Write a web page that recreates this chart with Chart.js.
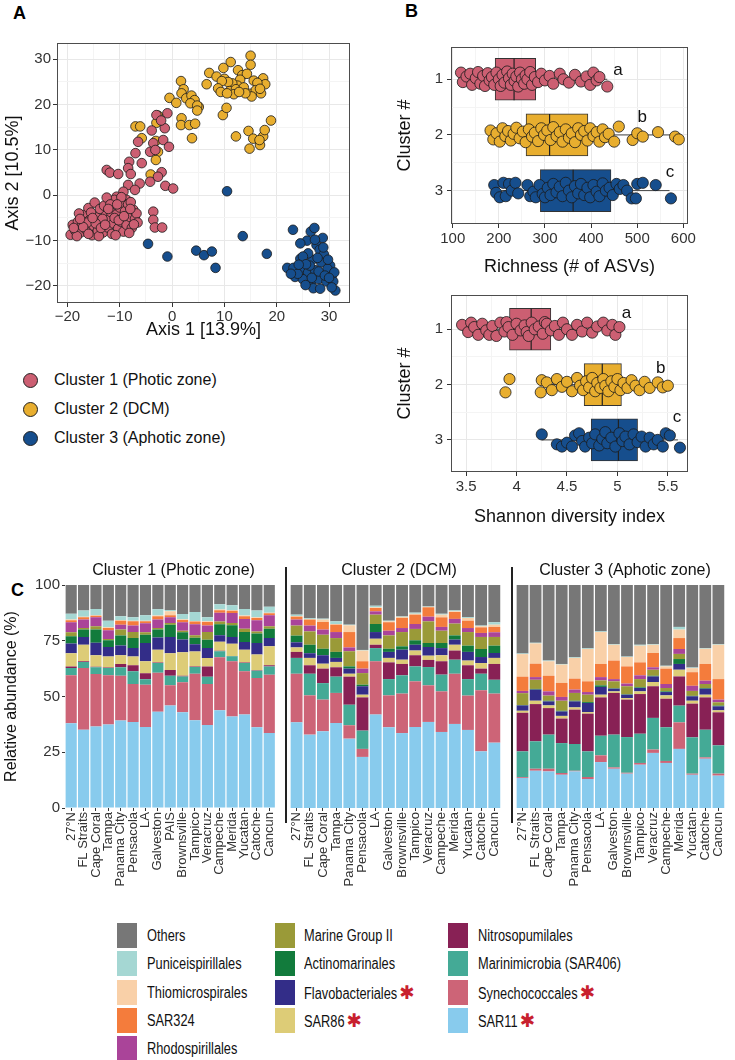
<!DOCTYPE html>
<html>
<head>
<meta charset="utf-8">
<script src="https://cdn.jsdelivr.net/npm/chart.js@4.4.1/dist/chart.umd.min.js"></script>
<style>
  body { margin: 0; background: #fff; font-family: 'Liberation Sans', Arial, sans-serif; }
  #fig { position: relative; width: 735px; height: 1060px; overflow: hidden; }
  #fig canvas { position: absolute; }
  .tag { position: absolute; font-weight: bold; font-size: 18px; color: #000; }
  .strip { position: absolute; top: 561px; font-size: 16px; text-align: center; color: #111; }
  .vline { position: absolute; top: 567px; width: 2px; height: 256px; background: #222; }
  .dot { position: absolute; width: 15px; height: 15px; border-radius: 50%; border: 1px solid #222; box-sizing: border-box; }
  .ltext { position: absolute; font-size: 16px; color: #111; white-space: nowrap; }
  .sq { position: absolute; width: 20px; height: 25px; }
  .ctext { position: absolute; font-size: 16px; color: #111; white-space: nowrap; line-height: 25px;
           transform: scaleX(0.8); transform-origin: 0 50%; }
  .star { color: #c8202e; font-family: 'DejaVu Sans', sans-serif; font-size: 19px; margin-left: 4px; display: inline-block; transform: scaleX(1.2); }
</style>
</head>
<body>
<div id="fig">
  <div class="tag" style="left:13px;top:3px;">A</div>
  <div class="tag" style="left:405px;top:1px;">B</div>
  <div class="tag" style="left:11px;top:580px;">C</div>

  <canvas id="pcoa" width="365" height="345" style="left:0;top:0;"></canvas>
  <canvas id="richness" width="365" height="285" style="left:370px;top:0;"></canvas>
  <canvas id="shannon" width="365" height="265" style="left:370px;top:270px;"></canvas>

  <div id="legendA"></div>

  <canvas id="bars1" width="286" height="345" style="left:0;top:560px;"></canvas>
  <canvas id="bars2" width="224" height="345" style="left:287px;top:560px;"></canvas>
  <canvas id="bars3" width="222" height="345" style="left:513px;top:560px;"></canvas>

  <div class="strip" style="left:65px;width:217px;">Cluster 1 (Photic zone)</div>
  <div class="strip" style="left:290px;width:218px;">Cluster 2 (DCM)</div>
  <div class="strip" style="left:516px;width:218px;">Cluster 3 (Aphotic zone)</div>
  <div class="vline" style="left:285px;"></div>
  <div class="vline" style="left:511px;"></div>

  <div id="legendC"></div>
</div>

<script>
// ---------- data ----------
var clusterNames = ['Cluster 1 (Photic zone)', 'Cluster 2 (DCM)', 'Cluster 3 (Aphotic zone)'];
var clusterColors = ['#cc5f72', '#e8ae2f', '#164e8d'];

// Panel A: PCoA coordinates [axis1, axis2]
var pcoaC1 = [
  [-3.0,17.7],[-0.9,18.1],[-1.4,14.8],[-2.1,16.5],[-3.9,14.3],[-6.5,11.8],[-3.6,11.5],[-1.7,12.2],[-0.6,10.7],
  [-4.2,9.6],[-3.2,10.0],[-7.0,9.3],[-8.2,7.4],[-5.8,7.1],[-8.4,6.0],[-12.5,5.6],[-11.9,5.0],[-10.3,4.7],
  [-7.9,4.7],[-2.0,5.1],[-4.2,3.0],[-6.2,2.6],[-8.4,2.3],[-1.3,2.1],[0.2,1.5],[-2.7,4.1],[-7.1,1.2],
  [-9.3,0.8],[-10.6,-0.3],[-8.7,-1.0],[-3.6,-3.6],[-3.6,-5.4],[-3.3,-7.1],[-1.9,-7.1],
  [-19.4,-8.7],[-19.0,-6.5],[-18.5,-7.8],[-18.0,-5.8],[-17.5,-8.2],[-17.2,-6.3],[-16.8,-4.3],[-16.5,-7.5],
  [-16.0,-2.8],[-15.8,-5.5],[-15.3,-8.8],[-15.0,-6.7],[-14.8,-1.6],[-14.5,-4.8],[-14.2,-7.8],[-13.8,-3.0],
  [-13.5,-6.0],[-13.2,-8.2],[-13.0,-2.3],[-12.7,-4.5],[-12.3,-7.1],[-12.0,-5.3],[-11.7,-3.7],[-11.5,-8.5],
  [-11.2,-6.2],[-11.0,-1.0],[-10.6,-4.2],[-10.3,-7.3],[-10.0,-2.7],[-9.8,-5.8],[-9.5,-1.6],[-9.3,-8.0],
  [-9.0,-3.5],[-8.7,-6.5],[-8.4,-2.0],[-8.0,-4.8],[-7.7,-7.2],[-7.4,-3.2],[-7.1,-5.2],[-6.8,-4.0],
  [-6.6,-6.0],[-17.8,-4.0],[-15.5,-3.8],[-14.0,-9.0],[-12.5,-0.5],[-10.8,-8.8],[-9.7,-0.4],[-8.2,-8.3],
  [-13.3,-5.2],[-16.2,-6.0],[-18.2,-9.0],[-11.8,-2.0],[-7.9,-1.5],
  [-18.8,-7.2],[-17.0,-7.0],[-16.0,-8.5],[-14.6,-6.2],[-13.6,-7.2],[-12.2,-3.0],[-11.0,-5.0],[-10.2,-5.5],
  [-9.2,-4.6],[-8.0,-3.0],[-7.3,-6.4],[-15.2,-5.0],[-12.8,-6.5],[-10.5,-2.0],[-17.6,-5.2]
];
var pcoaC2 = [
  [15.0,30.8],[15.0,28.8],[11.2,29.4],[9.8,28.1],[7.1,27.0],[8.5,26.2],[10.0,25.7],[12.6,27.6],[13.4,26.5],
  [14.3,26.8],[15.6,25.3],[17.4,25.8],[17.8,24.5],[16.3,24.8],[13.0,25.5],[12.5,24.2],[11.5,24.7],[10.7,25.0],
  [9.5,25.2],[8.8,23.6],[6.6,24.5],[9.3,22.8],[11.0,23.0],[12.2,23.4],[13.7,23.8],[14.9,22.4],[16.0,23.2],
  [17.0,22.5],[15.2,21.8],[14.0,22.5],[11.8,22.3],[10.5,22.5],[12.8,22.8],[16.8,23.5],
  [1.7,25.2],[2.2,23.4],[1.8,22.5],[-0.5,21.5],[0.8,20.4],[2.7,21.4],[3.7,22.0],[4.3,21.0],[3.5,20.3],
  [5.1,19.5],[4.8,19.8],[4.8,18.7],[1.8,17.0],[1.7,15.5],[3.3,15.5],[4.4,15.8],[3.8,12.6],[9.7,17.7],
  [10.4,19.3],[12.2,13.0],[14.6,14.2],[15.5,12.5],[16.8,11.1],[14.8,10.3],[17.4,13.0],[17.7,14.4],
  [18.9,16.5],[16.7,12.2],
  [-7.0,15.2],[-6.1,15.2],[-5.8,12.6],[-2.7,17.6],[-3.1,12.0],[-2.7,9.6],[-3.1,7.8],[-4.1,4.6],[-3.0,16.0]
];
var pcoaC3 = [
  [10.5,0.9],[13.5,-9.0],[-4.6,-10.7],[-0.9,-13.5],[4.6,-12.2],[6.1,-13.2],[7.6,-12.4],[8.3,-16.0],
  [18.1,-12.9],[23.1,-7.6],
  [26.5,-8.0],[27.2,-7.2],[28.8,-9.4],[25.8,-10.0],[24.5,-10.6],[27.6,-11.0],[28.2,-12.0],[29.0,-13.0],
  [24.5,-14.0],[26.8,-14.2],[28.5,-14.8],[30.2,-15.5],[22.0,-16.0],[23.2,-16.0],[24.8,-16.5],[26.0,-17.0],
  [27.3,-16.5],[29.7,-16.2],[30.5,-17.8],[23.5,-18.0],[25.0,-18.5],[26.5,-19.5],[28.0,-18.5],[29.5,-19.0],
  [27.0,-20.5],[28.3,-20.6],[30.8,-19.0],[31.2,-21.0],[30.5,-20.3],[25.5,-19.8],[24.0,-17.3],[26.3,-15.5],
  [28.0,-16.8],[29.2,-17.7],[27.8,-13.8],[26.0,-12.8],[25.0,-13.5],[31.0,-17.0],[22.7,-17.3],[26.7,-18.2],
  [28.9,-11.5],[27.3,-9.8],[29.8,-14.2],[30.0,-18.2],[25.6,-15.2],[24.2,-15.3]
];

// Panel B: richness (# ASVs) — [value, jittered cluster position]
var richC1 = [
  [118,0.88],[122,1.05],[130,0.95],[138,0.9],[142,1.1],[150,0.98],[155,0.87],[160,1.08],[166,0.94],[170,1.12],
  [176,0.89],[180,1.02],[185,0.96],[190,1.1],[195,0.88],[200,1.0],[204,1.12],[208,0.92],[212,1.06],[218,0.86],
  [222,0.98],[226,1.1],[230,0.9],[234,1.03],[238,0.95],[242,1.13],[246,0.88],[250,1.0],[255,1.08],[258,0.93],
  [262,1.0],[268,0.87],[272,1.1],[278,0.96],[285,1.05],[292,0.9],[300,1.02],[310,0.94],[318,1.08],[332,0.9],
  [340,1.0],[352,1.06],[365,0.92],[378,1.04],[390,0.95],[398,1.1],[405,0.88],[412,1.02],[418,0.96],[435,1.13]
];
var richC2 = [
  [182,1.92],[188,2.08],[195,1.97],[202,2.12],[208,1.88],[214,2.02],[220,1.93],[226,2.1],[232,1.98],[238,1.87],
  [245,2.06],[252,1.94],[258,2.13],[265,1.9],[272,2.03],[278,1.96],[285,2.11],[292,1.88],[298,2.0],[305,1.92],
  [312,2.09],[318,1.86],[325,2.02],[332,1.95],[338,2.12],[345,1.9],[352,2.05],[358,1.97],[365,2.13],[372,1.88],
  [378,2.0],[385,1.93],[392,2.1],[398,1.88],[405,2.02],[412,1.95],[418,2.12],[425,1.9],[430,2.04],[438,1.98],
  [450,2.12],[460,1.85],[490,2.09],[500,1.97],[512,2.03],[545,1.95],[582,2.03],[590,2.08]
];
var richC3 = [
  [190,2.9],[194,3.04],[202,3.12],[210,2.86],[215,3.1],[222,2.88],[228,3.0],[236,2.86],[242,3.05],[262,2.9],
  [268,3.1],[275,3.02],[280,3.12],[288,2.9],[295,3.06],[300,3.12],[306,2.95],[312,3.08],[318,2.88],[325,3.03],
  [332,2.93],[338,3.1],[345,2.86],[352,3.0],[358,3.12],[365,2.92],[372,3.05],[378,2.88],[385,3.08],[392,2.95],
  [398,3.12],[405,2.9],[412,3.02],[418,3.1],[425,2.87],[432,3.0],[440,2.95],[447,3.08],[455,2.88],[462,2.97],
  [470,2.9],[478,3.0],[488,3.14],[497,3.14],[500,2.88],[512,2.86],[540,2.9],[573,3.14]
];
var richQ1 = [192, 259, 290];
var richMedian = [233, 310, 361];
var richQ3 = [280, 393, 443];
var richLow = [118, 182, 205];
var richHigh = [435, 578, 570];

// Panel B: Shannon diversity index
var shanC1 = [
  [3.46,0.92],[3.52,1.05],[3.55,0.88],[3.58,0.96],[3.62,1.1],[3.66,0.9],[3.7,1.02],[3.73,1.1],[3.76,0.94],[3.8,1.12],
  [3.84,0.88],[3.88,1.04],[3.9,0.87],[3.92,0.96],[3.96,1.1],[4.0,0.9],[4.04,1.02],[4.08,0.93],[4.1,1.05],[4.12,1.12],
  [4.15,0.88],[4.18,1.0],[4.22,0.95],[4.26,1.08],[4.28,0.87],[4.3,0.9],[4.34,1.02],[4.38,0.94],[4.42,1.1],[4.46,0.88],
  [4.5,1.0],[4.55,1.1],[4.6,0.92],[4.65,1.04],[4.7,0.88],[4.75,1.06],[4.8,0.95],[4.86,0.88],[4.9,1.02],[4.95,0.92],
  [4.98,1.1],[5.02,0.96]
];
var shanC2 = [
  [3.93,1.9],[3.89,2.14],[4.24,2.14],[4.25,1.92],[4.3,1.96],[4.35,2.1],[4.4,1.9],[4.45,2.04],[4.5,1.95],[4.55,2.12],
  [4.6,1.88],[4.63,2.02],[4.66,2.1],[4.69,1.94],[4.72,2.05],[4.75,1.88],[4.78,2.12],[4.8,1.97],[4.83,2.06],[4.86,1.9],
  [4.88,2.02],[4.91,2.12],[4.94,1.94],[4.97,2.04],[5.0,1.9],[5.03,2.1],[5.06,1.97],[5.1,2.06],[5.14,1.92],[5.18,2.02],
  [5.22,2.1],[5.27,1.95],[5.32,2.06],[5.4,1.96],[5.45,2.05],[5.5,2.02]
];
var shanC3 = [
  [4.25,2.9],[4.4,3.08],[4.45,3.12],[4.5,3.05],[4.55,3.12],[4.58,2.92],[4.62,2.88],[4.65,3.02],[4.68,3.12],[4.72,2.96],
  [4.75,3.06],[4.78,2.9],[4.82,3.1],[4.85,2.98],[4.88,2.86],[4.9,3.06],[4.94,2.96],[4.98,3.12],[5.02,2.88],[5.05,3.02],
  [5.08,2.94],[5.12,3.08],[5.16,2.9],[5.2,3.04],[5.24,2.94],[5.28,3.12],[5.32,2.96],[5.36,3.08],[5.4,3.0],[5.45,3.12],
  [5.48,2.88],[5.52,2.92],[5.62,3.14]
];
var shanQ1 = [3.93, 4.67, 4.74];
var shanMedian = [4.145, 4.85, 5.01];
var shanQ3 = [4.34, 5.04, 5.20];
var shanLow = [3.46, 4.23, 4.25];
var shanHigh = [5.02, 5.52, 5.60];

// Panel C: relative abundance (%) per site, stacked bottom -> top
var taxa = ['SAR11', 'Synechococcales', 'Marinimicrobia (SAR406)', 'Nitrosopumilales', 'SAR86', 'Flavobacteriales',
            'Actinomarinales', 'Marine Group II', 'Rhodospirillales', 'SAR324', 'Thiomicrospirales', 'Puniceispirillales', 'Others'];
var taxaColors = ['#88cbed', '#cd6477', '#44aa96', '#882155', '#ddcc77', '#332d88', '#127b3c', '#9a9a38', '#aa4499',
                  '#f47c3c', '#f9d0a8', '#a5d7d3', '#777777'];
var starred = ['SAR11', 'Synechococcales', 'SAR86', 'Flavobacteriales'];

var sites1 = ['27°N', 'FL Straits', 'Cape Coral', 'Tampa', 'Panama City', 'Pensacola', 'LA', 'Galveston', 'PAIS',
              'Brownsville', 'Tampico', 'Veracruz', 'Campeche', 'Merida', 'Yucatan', 'Catoche', 'Cancun'];
var sites23 = ['27°N', 'FL Straits', 'Cape Coral', 'Tampa', 'Panama City', 'Pensacola', 'LA', 'Galveston',
               'Brownsville', 'Tampico', 'Veracruz', 'Campeche', 'Merida', 'Yucatan', 'Catoche', 'Cancun'];

// Cluster 1 (Photic zone)
var c1SAR11  = [38, 35.1, 36.5, 37.4, 39.2, 38.6, 36.3, 43.2, 46, 42.9, 39.3, 37.2, 43.8, 41, 41.9, 36.2, 33.6];
var c1Syn    = [21.5, 27.7, 23.6, 22.1, 20.1, 17, 19, 17.5, 9, 13.5, 20.9, 18.4, 23.8, 24.8, 19.4, 22.1, 26.2];
var c1Marini = [3.3, 2.7, 3, 3.3, 3.8, 5.7, 2.4, 4.3, 4.3, 2.6, 3, 3.3, 2.7, 2.2, 3.7, 3.3, 3.6];
var c1Nitro  = [0.6, 0.3, 0.2, 0.2, 1.5, 2.7, 2.7, 0.2, 2.6, 0.3, 0.2, 4.5, 0.2, 0.2, 0.3, 0.2, 0.6];
var c1SAR86  = [6, 7.4, 5.2, 4.9, 3.9, 3.9, 5.4, 5.8, 7.5, 10.5, 6.8, 3.9, 4, 5.5, 5.7, 7, 8.5];
var c1Flavo  = [4.4, 3.5, 5.6, 4.3, 4.4, 3.8, 8.2, 5.5, 7.3, 5.8, 3.2, 4.4, 3, 3, 3.4, 5.2, 3.7];
var c1Actino = [3.2, 3.3, 6, 3, 4.5, 4.5, 3.7, 3.5, 5.5, 3.2, 3, 3.8, 4.9, 5.2, 4.5, 4.2, 4.2];
var c1MGII   = [1.8, 0.7, 1.4, 0.6, 2.6, 2.7, 1.1, 0.7, 0.8, 0.7, 1.1, 3.4, 1.2, 1.1, 1.5, 1, 1.1];
var c1Rhodo  = [4.5, 3.8, 4, 3.9, 2.2, 2.9, 4, 3.8, 2.5, 3.8, 4.9, 2.9, 4, 4.4, 4.4, 5, 4.9];
var c1SAR324 = [0.9, 1, 0.7, 1, 1.8, 1.9, 0.9, 1.5, 0.9, 1, 1.2, 1.6, 1.1, 1.1, 1.2, 1, 0.9];
var c1Thio   = [0.3, 0.3, 0.2, 0.3, 0.3, 0.3, 0.3, 0.3, 1.8, 0.3, 0.3, 0.4, 0.3, 0.2, 0.3, 0.3, 0.3];
var c1Punic  = [2.6, 2.8, 2.8, 3, 1.7, 1.5, 2.4, 2.8, 0.6, 2.4, 4, 1.7, 2.4, 2.2, 2.9, 3.1, 2.7];
var c1Others = [12.9, 11.4, 10.8, 16, 14, 14.5, 13.6, 10.9, 11.2, 13.3, 12.6, 14.5, 8.8, 9.1, 10.8, 11.4, 10];

// Cluster 2 (DCM)
var c2SAR11  = [38.4, 32.9, 34.4, 38.1, 31.1, 22.9, 41.9, 36.2, 33.6, 36.3, 38.6, 34.1, 37.7, 35, 25.4, 29.3];
var c2Syn    = [21.8, 17.6, 14.2, 13.5, 6, 3.6, 23.9, 14.3, 17.7, 20.5, 16.4, 18.2, 22.5, 15.4, 27.4, 22];
var c2Marini = [7.1, 9.7, 7.4, 7.3, 9.2, 8.2, 5.9, 7.3, 8.2, 6.7, 8.2, 7.5, 6.3, 7.4, 7.4, 6.2];
var c2Nitro  = [2.7, 3.8, 6.5, 4.2, 12.6, 14.9, 1.5, 7.5, 5.1, 5, 3.2, 6, 4.1, 6.2, 2.3, 7.1];
var c2SAR86  = [2, 3.3, 2.2, 2.4, 1.3, 1.2, 2.7, 2, 1.9, 2.1, 1.9, 2.7, 2.6, 2.1, 2.5, 2.7];
var c2Flavo  = [2.3, 2.1, 3.8, 1.8, 2.3, 3.8, 3, 2.7, 4.5, 2.6, 3.9, 3.2, 2.3, 3.9, 2.7, 2.2];
var c2Actino = [3, 3.8, 2.9, 2.7, 1, 0.7, 3.6, 1.4, 1.5, 2, 1.8, 2.3, 1.9, 2.8, 3.6, 3.3];
var c2MGII   = [4.5, 6, 6.3, 6.2, 6.8, 5.2, 4.2, 6, 6.4, 5.1, 9.7, 5.5, 5.3, 6.1, 5.4, 3.9];
var c2Rhodo  = [2.7, 2.6, 2.3, 2.7, 1.7, 2, 1.5, 2.1, 1.8, 2.2, 2.1, 1.7, 2.1, 1.8, 1.8, 2.1];
var c2SAR324 = [1.3, 2.7, 3.4, 3.3, 6.9, 3.3, 1.5, 3.8, 4.5, 4.2, 4.2, 4.3, 3.1, 3.3, 2.5, 2.4];
var c2Thio   = [0.3, 0.2, 1.1, 0.3, 3, 4.8, 0.3, 0.4, 0.5, 0.4, 0.2, 1.2, 0.3, 1.2, 0.5, 1];
var c2Punic  = [0.6, 0.4, 0.4, 1.2, 0.3, 0.3, 0.7, 0.3, 0.2, 0.5, 0.2, 0.4, 0.4, 0.4, 0.3, 1.1];
var c2Others = [13.3, 15.1, 15.1, 16.6, 17.8, 29.1, 9.6, 16, 14.3, 12.4, 9.6, 12.9, 11.4, 14.4, 18.2, 16.7];

// Cluster 3 (Aphotic zone)
var c3SAR11  = [13.5, 16.7, 16.4, 14.9, 16.4, 13, 20.6, 17.6, 15.4, 19.4, 24.7, 20.2, 26.5, 14.9, 22.1, 14.5];
var c3Syn    = [0.4, 0.9, 1.2, 0.8, 0.3, 0.9, 3, 0.6, 0.4, 0.8, 1.5, 0.9, 11.9, 0.5, 0.6, 0.9];
var c3Marini = [11.5, 12.3, 15.3, 13.4, 12, 11.5, 8.8, 14.7, 16, 13.1, 14.2, 15.1, 7.5, 16.3, 12.4, 12.7];
var c3Nitro  = [17.3, 16.7, 11.9, 11, 15.4, 16.9, 17.2, 18.7, 16.8, 17.8, 14.2, 12.8, 13.1, 15.1, 14.5, 14.8];
var c3SAR86  = [0.9, 1.5, 1.2, 1.2, 1, 0.7, 1.2, 0.7, 0.7, 1.2, 1.9, 1.5, 3, 1.3, 1.2, 0.9];
var c3Flavo  = [2.4, 5, 1.8, 2, 2.7, 4.1, 3.5, 1.2, 1.5, 1.5, 2.5, 1.5, 2.6, 2, 2.7, 1.8];
var c3Actino = [0.2, 0.3, 0.3, 0.3, 0.3, 0.4, 0.7, 0.2, 0.2, 0.3, 0.3, 0.3, 2.2, 0.2, 0.3, 0.3];
var c3MGII   = [5.3, 4.1, 2.3, 4.5, 3.5, 3.3, 2.2, 3.1, 3.6, 3.7, 2.7, 1.5, 2.3, 2.2, 1.8, 1.5];
var c3Rhodo  = [1, 1.2, 1.9, 1.7, 1.5, 1.2, 1.5, 1, 1.2, 1.7, 1.1, 1.8, 2.2, 2.3, 1.5, 1.2];
var c3SAR324 = [6.4, 6, 7, 6.3, 4.9, 4.8, 5.9, 8.3, 7.7, 5.8, 6.4, 6.9, 4.9, 6.1, 7.5, 9.2];
var c3Thio   = [10.1, 9.1, 6.5, 8.2, 9.3, 14.5, 14.3, 7.1, 4.2, 7.5, 3.7, 1, 3.8, 1.8, 6.8, 15.4];
var c3Punic  = [0.3, 0.3, 0.3, 0.3, 0.3, 0.3, 0.3, 0.3, 0.2, 0.4, 0.3, 0.3, 1.2, 0.3, 0.3, 0.3];
var c3Others = [30.9, 25.9, 33.9, 35.4, 32.4, 28.4, 20.8, 26.5, 32.1, 26.8, 26.5, 36.2, 18.8, 37.2, 28.3, 26.5];

var cluster1 = [c1SAR11, c1Syn, c1Marini, c1Nitro, c1SAR86, c1Flavo, c1Actino, c1MGII, c1Rhodo, c1SAR324, c1Thio, c1Punic, c1Others];
var cluster2 = [c2SAR11, c2Syn, c2Marini, c2Nitro, c2SAR86, c2Flavo, c2Actino, c2MGII, c2Rhodo, c2SAR324, c2Thio, c2Punic, c2Others];
var cluster3 = [c3SAR11, c3Syn, c3Marini, c3Nitro, c3SAR86, c3Flavo, c3Actino, c3MGII, c3Rhodo, c3SAR324, c3Thio, c3Punic, c3Others];

// ---------- helpers ----------
Chart.defaults.font.family = "'Liberation Sans', Arial, sans-serif";
Chart.defaults.color = '#333';
Chart.defaults.animation = false;
Chart.defaults.plugins.legend.display = false;
Chart.defaults.plugins.tooltip.enabled = false;

function toXY(arr) {
  return arr.map(function (p) { return { x: p[0], y: p[1] }; });
}
function minusSign(v) {
  return v < 0 ? '\u2212' + Math.abs(v) : String(v);
}
function setTicks(list) {
  return function (scale) { scale.ticks = list.map(function (v) { return { value: v }; }); };
}

// panel border like theme_bw
var panelBorder = {
  id: 'panelBorder',
  afterDraw: function (chart) {
    var a = chart.chartArea, ctx = chart.ctx;
    ctx.save();
    ctx.strokeStyle = '#4d4d4d';
    ctx.lineWidth = 1;
    ctx.strokeRect(a.left + 0.5, a.top + 0.5, a.right - a.left - 1, a.bottom - a.top - 1);
    ctx.restore();
  }
};

// significance letters next to the boxes
var groupLetters = {
  id: 'groupLetters',
  afterDatasetsDraw: function (chart, args, opts) {
    var ctx = chart.ctx, sx = chart.scales.x, sy = chart.scales.y;
    ctx.save();
    ctx.font = "17px 'Liberation Sans', Arial, sans-serif";
    ctx.fillStyle = '#111';
    ctx.textAlign = 'center';
    ctx.textBaseline = 'middle';
    for (var i = 0; i < opts.text.length; i++) {
      ctx.fillText(opts.text[i], sx.getPixelForValue(opts.xs[i]), sy.getPixelForValue(opts.ys[i]));
    }
    ctx.restore();
  }
};

// ---------- Panel A ----------
var pcoaSets = [pcoaC1, pcoaC2, pcoaC3].map(function (pts, i) {
  return {
    data: toXY(pts),
    backgroundColor: clusterColors[i],
    borderColor: '#1a1a1a',
    borderWidth: 0.8,
    pointRadius: 4.8
  };
});

new Chart(document.getElementById('pcoa'), {
  type: 'scatter',
  data: { datasets: pcoaSets },
  options: {
    responsive: false,
    layout: { padding: { top: 43, right: 15, left: 0, bottom: 0 } },
    scales: {
      x: {
        min: -22, max: 34,
        afterBuildTicks: setTicks([-20, -15, -10, -5, 0, 5, 10, 15, 20, 25, 30]),
        afterFit: function (s) { s.height = 42; },
        ticks: {
          autoSkip: false, maxRotation: 0, padding: 1, font: { size: 15 }, color: '#333',
          callback: function (v) { return v % 10 === 0 ? minusSign(v) : ''; }
        },
        grid: {
          color: function (c) { return c.tick && c.tick.value % 10 === 0 ? '#e8e8e8' : '#f4f4f4'; },
          tickColor: function (c) { return c.tick && c.tick.value % 10 === 0 ? '#333' : 'rgba(0,0,0,0)'; },
          tickLength: 4
        },
        border: { display: false },
        title: { display: true, text: 'Axis 1 [13.9%]', font: { size: 18 }, color: '#111', padding: { top: 0, bottom: 4 } }
      },
      y: {
        min: -23.75, max: 33.6,
        afterBuildTicks: setTicks([-20, -15, -10, -5, 0, 5, 10, 15, 20, 25, 30]),
        afterFit: function (s) { s.width = 57; },
        ticks: {
          autoSkip: false, padding: 2, font: { size: 15 }, color: '#333',
          callback: function (v) { return v % 10 === 0 ? minusSign(v) : ''; }
        },
        grid: {
          color: function (c) { return c.tick && c.tick.value % 10 === 0 ? '#e8e8e8' : '#f4f4f4'; },
          tickColor: function (c) { return c.tick && c.tick.value % 10 === 0 ? '#333' : 'rgba(0,0,0,0)'; },
          tickLength: 4
        },
        border: { display: false },
        title: { display: true, text: 'Axis 2 [10.5%]', font: { size: 18 }, color: '#111', padding: { top: 2, bottom: 0 } }
      }
    }
  },
  plugins: [panelBorder]
});

// ---------- Panel B ----------
function diversityChart(id, cfg) {
  var sets = [];
  [cfg.c1, cfg.c2, cfg.c3].forEach(function (pts, i) {
    sets.push({
      type: 'scatter', data: toXY(pts), order: 0,
      backgroundColor: clusterColors[i], borderColor: '#1a1a1a', borderWidth: 0.8, pointRadius: 5.6
    });
  });
  for (var i = 0; i < 3; i++) {
    sets.push({
      type: 'line', order: 1, showLine: true, pointRadius: 0, borderColor: '#222', borderWidth: 1.2,
      data: [{ x: cfg.median[i], y: i + 1 - 0.375 }, { x: cfg.median[i], y: i + 1 + 0.375 }]
    });
    sets.push({
      type: 'line', order: 3, showLine: true, pointRadius: 0, borderColor: '#444', borderWidth: 1,
      data: [{ x: cfg.low[i], y: i + 1 }, { x: cfg.high[i], y: i + 1 }]
    });
  }
  sets.push({
    type: 'bar', indexAxis: 'y', order: 2,
    data: cfg.q1.map(function (q, i) { return { x: [q, cfg.q3[i]], y: i + 1 }; }),
    backgroundColor: clusterColors, borderColor: '#333', borderWidth: 1, borderSkipped: false,
    barThickness: 42
  });

  return new Chart(document.getElementById(id), {
    type: 'scatter',
    data: { datasets: sets },
    options: {
      responsive: false,
      layout: { padding: { top: cfg.top, right: 47, left: 0, bottom: 0 } },
      plugins: { groupLetters: cfg.letters },
      scales: {
        x: {
          type: 'linear', offset: false,
          min: cfg.xmin, max: cfg.xmax,
          afterBuildTicks: setTicks(cfg.xticks),
          afterFit: function (s) { s.height = cfg.axisH; },
          ticks: {
            autoSkip: false, maxRotation: 0, padding: 2, font: { size: 15 }, color: '#333',
            callback: function (v) { return cfg.isMajor(v) ? String(v) : ''; }
          },
          grid: {
            offset: false,
            color: function (c) { return c.tick && cfg.isMajor(c.tick.value) ? '#e8e8e8' : '#f4f4f4'; },
            tickColor: function (c) { return c.tick && cfg.isMajor(c.tick.value) ? '#333' : 'rgba(0,0,0,0)'; },
            tickLength: 4
          },
          border: { display: false },
          title: { display: true, text: cfg.title, font: { size: 18 }, color: '#111', padding: { top: 0, bottom: 7 } }
        },
        y: {
          type: 'linear', offset: false,
          min: cfg.ymin, max: cfg.ymax, reverse: true,
          afterBuildTicks: setTicks([1, 1.5, 2, 2.5, 3]),
          afterFit: function (s) { s.width = 81; },
          ticks: {
            autoSkip: false, padding: 4, font: { size: 15 }, color: '#333',
            callback: function (v) { return Number.isInteger(v) ? String(v) : ''; }
          },
          grid: {
            offset: false,
            color: function (c) { return c.tick && Number.isInteger(c.tick.value) ? '#e8e8e8' : '#f4f4f4'; },
            tickColor: function (c) { return c.tick && Number.isInteger(c.tick.value) ? '#333' : 'rgba(0,0,0,0)'; },
            tickLength: 4
          },
          border: { display: false },
          title: { display: true, text: 'Cluster #', font: { size: 18 }, color: '#111', padding: { top: 24, bottom: 0 } }
        }
      }
    },
    plugins: [panelBorder, groupLetters]
  });
}

diversityChart('richness', {
  c1: richC1, c2: richC2, c3: richC3,
  q1: richQ1, median: richMedian, q3: richQ3, low: richLow, high: richHigh,
  xmin: 96.3, xmax: 610, ymin: 0.42, ymax: 3.6, top: 47, axisH: 61,
  xticks: [100, 150, 200, 250, 300, 350, 400, 450, 500, 550, 600],
  isMajor: function (v) { return v % 100 === 0; },
  title: 'Richness (# of ASVs)',
  letters: { text: ['a', 'b', 'c'], xs: [458, 511, 571], ys: [0.83, 1.68, 2.67] }
});

diversityChart('shannon', {
  c1: shanC1, c2: shanC2, c3: shanC3,
  q1: shanQ1, median: shanMedian, q3: shanQ3, low: shanLow, high: shanHigh,
  xmin: 3.35, xmax: 5.70, ymin: 0.38, ymax: 3.58, top: 25, axisH: 63,
  xticks: [3.5, 3.75, 4, 4.25, 4.5, 4.75, 5, 5.25, 5.5],
  isMajor: function (v) { return Math.abs(v * 2 - Math.round(v * 2)) < 1e-6; },
  title: 'Shannon diversity index',
  letters: { text: ['a', 'b', 'c'], xs: [5.09, 5.43, 5.59], ys: [0.71, 1.7, 2.6] }
});

// ---------- Panel C ----------
function abundanceChart(id, sites, series, showY, padL, padR) {
  return new Chart(document.getElementById(id), {
    type: 'bar',
    data: {
      labels: sites,
      datasets: series.map(function (vals, i) {
        return {
          label: taxa[i], data: vals, backgroundColor: taxaColors[i],
          barPercentage: 0.9, categoryPercentage: 1, borderWidth: 0
        };
      })
    },
    options: {
      responsive: false,
      layout: { padding: { top: 25, left: padL, right: padR, bottom: 0 } },
      scales: {
        x: {
          stacked: true,
          afterFit: function (s) { s.height = 97; },
          ticks: { autoSkip: false, minRotation: 90, maxRotation: 90, padding: 1, font: { size: 13 }, color: '#333' },
          grid: { offset: false, drawOnChartArea: false, tickLength: 3, color: '#333' },
          border: { display: false }
        },
        y: {
          display: showY, stacked: true, min: 0, max: 100,
          afterFit: function (s) { s.width = showY ? 65 : 0; },
          ticks: { stepSize: 25, padding: 2, font: { size: 15 }, color: '#333' },
          grid: { drawOnChartArea: false, tickLength: 3, color: '#333' },
          border: { display: false },
          title: { display: true, text: 'Relative abundance (%)', font: { size: 16 }, color: '#111', padding: { top: 2, bottom: 0 } }
        }
      }
    }
  });
}

abundanceChart('bars1', sites1, cluster1, true, 0, 4);
abundanceChart('bars2', sites23, cluster2, false, 3, 3);
abundanceChart('bars3', sites23, cluster3, false, 3, 1);

// ---------- legends ----------
var legA = document.getElementById('legendA');
var legAY = [380, 409, 438];
clusterNames.forEach(function (name, i) {
  var d = document.createElement('div');
  d.className = 'dot';
  d.style.left = '23px';
  d.style.top = (legAY[i] - 7.5) + 'px';
  d.style.background = clusterColors[i];
  legA.appendChild(d);
  var t = document.createElement('div');
  t.className = 'ltext';
  t.style.left = '54px';
  t.style.top = (legAY[i] - 9) + 'px';
  t.textContent = name;
  legA.appendChild(t);
});

var legC = document.getElementById('legendC');
var legOrder = taxa.slice().reverse();
var colSizes = [5, 4, 4];
var sqX = [117, 275, 448];
var txX = [147, 304, 478];
var rowY = 923;
var rowStep = 28.3;
var k = 0;
colSizes.forEach(function (n, c) {
  for (var r = 0; r < n; r++, k++) {
    var name = legOrder[k];
    var idx = taxa.indexOf(name);
    var sq = document.createElement('div');
    sq.className = 'sq';
    sq.style.left = sqX[c] + 'px';
    sq.style.top = (rowY + r * rowStep) + 'px';
    sq.style.background = taxaColors[idx];
    legC.appendChild(sq);
    var t = document.createElement('div');
    t.className = 'ctext';
    t.style.left = txX[c] + 'px';
    t.style.top = (rowY + r * rowStep) + 'px';
    t.textContent = name;
    if (starred.indexOf(name) >= 0) {
      var s = document.createElement('span');
      s.className = 'star';
      s.textContent = '\u2731';
      t.appendChild(s);
    }
    legC.appendChild(t);
  }
});
</script>
</body>
</html>
